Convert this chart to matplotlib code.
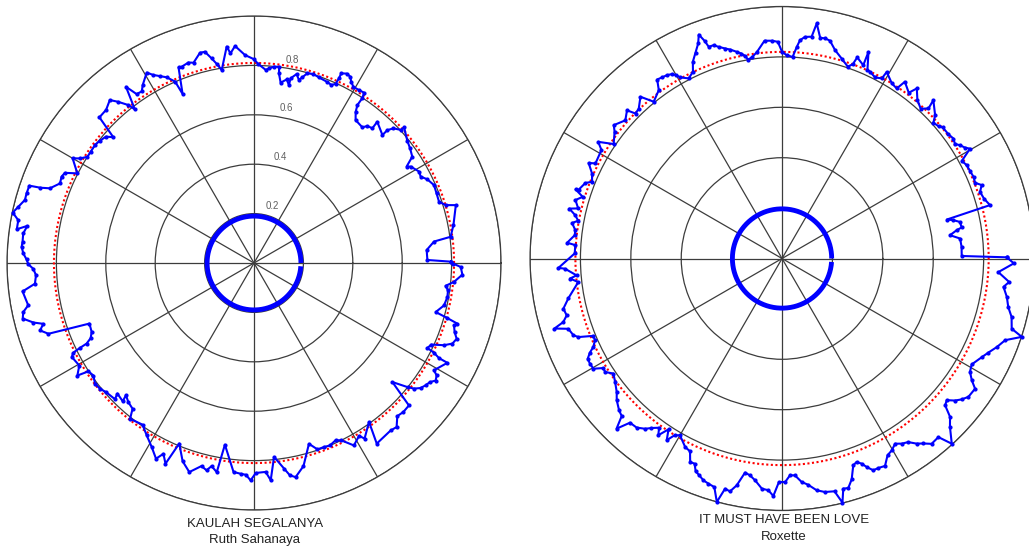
import numpy as np
import matplotlib
matplotlib.use("Agg")
import matplotlib.pyplot as plt

plt.rcParams['font.family'] = ['Liberation Sans', 'DejaVu Sans']

# KAULAH SEGALANYA - angle (deg) and level per sample
kaulah_deg = [
    0.4, 1.0, 4.3, 6.8, 7.6, 10.8, 16.0, 16.8, 18.3, 20.9, 23.4, 25.8, 27.4, 29.0, 31.6,
    32.3, 33.9, 36.3, 38.6, 42.1, 42.2, 44.0, 44.9, 44.9, 48.9, 48.7, 50.4, 51.4, 54.6, 56.1,
    56.8, 56.7, 57.1, 58.7, 60.6, 61.8, 62.7, 63.9, 65.3, 65.3, 65.5, 66.5, 68.2, 70.7, 72.6,
    74.3, 75.4, 76.2, 77.3, 78.8, 78.9, 79.9, 81.6, 82.5, 82.7, 84.2, 85.6, 86.5, 88.8, 90.0,
    92.5, 95.0, 96.4, 97.2, 99.5, 100.6, 101.7, 103.1, 104.4, 106.8, 108.1, 110.2, 111.1, 112.9, 113.5,
    115.2, 116.7, 118.2, 119.4, 122.0, 123.2, 124.8, 126.0, 127.8, 128.5, 130.1, 131.5, 134.0, 136.7, 138.2,
    139.5, 141.5, 143.4, 145.7, 147.5, 149.0, 150.0, 153.1, 154.5, 155.8, 157.7, 159.9, 160.6, 161.0, 163.0,
    164.6, 166.6, 168.2, 169.7, 171.9, 170.7, 172.7, 174.7, 176.0, 177.6, 179.1,
    180.3, 181.5, 183.2, 185.4, 187.0, 190.6, 192.0, 193.5, 195.1, 196.1, 197.5, 199.0, 200.2, 203.0, 204.7,
    205.7, 206.0, 206.4, 207.3, 210.4, 212.5, 213.2, 215.0, 217.2, 219.2, 221.1, 224.4, 223.7, 226.5, 225.9,
    227.9, 230.2, 231.5, 235.4, 238.1, 240.9, 243.4, 244.6, 246.2, 247.5, 250.2, 252.8, 255.5, 257.1, 258.2,
    259.9, 260.9, 264.4, 266.4, 267.8, 269.1, 270.5,
    273.2, 274.4, 275.9, 278.3, 279.6, 281.0, 283.7, 286.9, 288.8, 290.8, 292.6, 294.7, 296.2, 298.7, 301.3,
    302.2, 305.9, 304.2, 309.2, 311.0, 313.1, 315.1, 317.4, 319.3, 321.1, 321.9, 323.1, 324.5, 325.9, 327.1,
    328.4, 329.2, 332.7, 332.8, 333.5, 333.9, 335.3, 336.6, 337.9, 339.5, 341.0, 342.7, 343.4, 344.1, 344.9,
    347.4, 350.0, 352.0, 353.2, 354.6, 356.8, 358.9, 359.8,
]
kaulah_val = [
    0.796, 0.702, 0.701, 0.734, 0.803, 0.822, 0.850, 0.811, 0.789, 0.791, 0.794, 0.779, 0.760, 0.764, 0.745,
    0.731, 0.772, 0.784, 0.794, 0.819, 0.802, 0.785, 0.762, 0.734, 0.759, 0.726, 0.720, 0.703, 0.710, 0.738,
    0.765, 0.798, 0.821, 0.819, 0.819, 0.833, 0.849, 0.854, 0.845, 0.823, 0.797, 0.786, 0.791, 0.796, 0.802,
    0.798, 0.777, 0.763, 0.784, 0.762, 0.734, 0.755, 0.738, 0.774, 0.801, 0.799, 0.790, 0.783, 0.806, 0.825,
    0.843, 0.882, 0.854, 0.883, 0.792, 0.820, 0.846, 0.878, 0.879, 0.847, 0.854, 0.847, 0.849, 0.743, 0.801,
    0.831, 0.847, 0.864, 0.885, 0.850, 0.830, 0.833, 0.882, 0.787, 0.817, 0.853, 0.881, 0.862, 0.860, 0.764,
    0.788, 0.796, 0.802, 0.800, 0.800, 0.822, 0.848, 0.802, 0.848, 0.854, 0.849, 0.880, 0.918, 0.962, 0.963,
    0.962, 0.981, 0.998, 0.970, 0.970, 0.930, 0.942, 0.941, 0.943, 0.935, 0.921,
    0.914, 0.894, 0.884, 0.891, 0.944, 0.930, 0.955, 0.963, 0.925, 0.888, 0.908, 0.880, 0.710, 0.714, 0.728,
    0.752, 0.784, 0.817, 0.830, 0.820, 0.848, 0.801, 0.794, 0.808, 0.805, 0.795, 0.788, 0.765, 0.772, 0.745,
    0.759, 0.768, 0.806, 0.795, 0.822, 0.852, 0.886, 0.855, 0.888, 0.791, 0.853, 0.886, 0.849, 0.861, 0.840,
    0.860, 0.745, 0.850, 0.855, 0.858, 0.880, 0.850,
    0.847, 0.882, 0.789, 0.841, 0.872, 0.883, 0.846, 0.765, 0.797, 0.797, 0.800, 0.790, 0.800, 0.842, 0.819,
    0.840, 0.794, 0.884, 0.875, 0.880, 0.849, 0.854, 0.852, 0.739, 0.801, 0.824, 0.843, 0.853, 0.860, 0.876,
    0.868, 0.848, 0.881, 0.842, 0.814, 0.782, 0.790, 0.838, 0.867, 0.876, 0.859, 0.848, 0.859, 0.814, 0.762,
    0.788, 0.795, 0.793, 0.781, 0.813, 0.845, 0.837, 0.807,
]

# IT MUST HAVE BEEN LOVE
roxette_deg = [
    0.3, 0.8, 3.7, 6.4, 7.9, 9.2, 9.8, 11.6, 12.6, 13.3, 14.4, 16.5, 18.6, 20.2, 21.4,
    23.1, 25.0, 26.8, 28.5, 30.3, 31.2, 32.5, 33.5, 35.0, 36.8, 39.2, 40.2, 41.9, 43.1, 46.3,
    45.7, 47.2, 49.5, 51.6, 52.6, 55.2, 56.0, 57.9, 60.7, 61.0, 62.8, 64.8, 65.6, 67.3, 67.2,
    69.5, 70.0, 71.1, 73.4, 75.7, 77.6, 78.9, 80.2, 81.6, 82.4, 84.1, 85.3, 86.0, 87.0, 88.7, 90.0,
    91.1, 92.6, 94.6, 96.9, 98.5, 99.7, 100.3, 101.2, 102.3, 103.9, 105.1, 106.7, 107.8, 109.1, 109.6,
    110.4, 111.3, 112.8, 114.4, 115.5, 117.4, 119.3, 120.0, 120.8, 122.1, 123.5, 124.9, 126.2, 129.3, 131.2,
    133.7, 135.3, 136.3, 138.6, 141.6, 142.9, 145.8, 147.6, 149.0, 153.0, 153.7, 155.9, 158.0, 159.0, 161.3,
    161.5, 162.8, 164.2, 166.2, 166.8, 168.2, 169.5, 170.4, 172.2, 173.6, 175.8, 176.3, 178.6,
    182.4, 182.7, 184.7, 185.4, 186.6, 190.5, 192.9, 194.8, 196.2, 197.1, 198.2, 200.2, 201.1, 202.3, 203.6,
    205.1, 206.1, 207.3, 208.7, 210.3, 211.5, 212.7, 214.3, 216.5, 218.9, 220.6, 223.0, 224.5, 225.8, 227.2,
    229.3, 231.2, 232.4, 234.0, 235.0, 236.4, 237.6, 238.7, 240.0, 242.8, 244.5, 245.7, 246.9, 247.9, 249.1,
    250.5, 251.9, 253.5, 255.0, 256.1, 257.4, 258.7, 260.2, 261.6, 263.1, 265.0, 266.6, 267.9, 269.2,
    270.8, 272.1, 273.4, 275.0, 276.6, 278.5, 280.4, 282.7, 283.9, 284.9, 286.1, 287.5, 289.0, 290.1, 291.2,
    292.1, 293.3, 294.7, 296.4, 298.2, 299.8, 301.4, 302.9, 304.5, 306.0, 307.4, 308.9, 311.2, 312.5, 314.9,
    316.7, 318.0, 319.3, 320.6, 321.9, 323.4, 326.0, 327.3, 328.9, 330.8, 333.7, 335.5, 337.6, 339.9, 341.9,
    343.0, 345.7, 347.9, 350.3, 352.7, 354.1, 356.4, 358.8,
]
roxette_val = [
    0.892, 0.713, 0.714, 0.711, 0.673, 0.702, 0.723, 0.721, 0.697, 0.672, 0.852, 0.836, 0.829, 0.844, 0.823,
    0.826, 0.823, 0.821, 0.812, 0.864, 0.849, 0.837, 0.823, 0.830, 0.824, 0.823, 0.813, 0.807, 0.832, 0.869,
    0.832, 0.810, 0.827, 0.861, 0.828, 0.854, 0.814, 0.820, 0.849, 0.817, 0.808, 0.819, 0.820, 0.889, 0.832,
    0.852, 0.820, 0.805, 0.828, 0.853, 0.885, 0.890, 0.889, 0.943, 0.888, 0.884, 0.869, 0.842, 0.801, 0.807, 0.820,
    0.860, 0.865, 0.867, 0.826, 0.807, 0.801, 0.816, 0.829, 0.839, 0.854, 0.863, 0.877, 0.889, 0.889, 0.917,
    0.948, 0.916, 0.886, 0.857, 0.821, 0.805, 0.824, 0.840, 0.852, 0.859, 0.862, 0.866, 0.828, 0.804, 0.853,
    0.823, 0.818, 0.851, 0.829, 0.852, 0.833, 0.808, 0.864, 0.836, 0.831, 0.856, 0.826, 0.813, 0.836, 0.852,
    0.864, 0.828, 0.852, 0.833, 0.867, 0.838, 0.823, 0.845, 0.828, 0.828, 0.855, 0.822, 0.823,
    0.888, 0.862, 0.818, 0.845, 0.814, 0.862, 0.890, 0.884, 0.904, 0.945, 0.893, 0.882, 0.866, 0.809, 0.810,
    0.827, 0.849, 0.868, 0.869, 0.867, 0.832, 0.834, 0.810, 0.824, 0.843, 0.864, 0.884, 0.892, 0.942, 0.888,
    0.885, 0.867, 0.849, 0.830, 0.856, 0.814, 0.854, 0.821, 0.810, 0.841, 0.848, 0.886, 0.885, 0.911, 0.921,
    0.934, 0.940, 0.946, 1.000, 0.941, 0.947, 0.918, 0.862, 0.870, 0.887, 0.917, 0.921, 0.943, 0.887,
    0.887, 0.861, 0.862, 0.890, 0.904, 0.930, 0.942, 0.947, 0.998, 0.945, 0.948, 0.919, 0.868, 0.860, 0.873,
    0.893, 0.915, 0.915, 0.919, 0.886, 0.877, 0.861, 0.875, 0.884, 0.908, 0.924, 0.945, 0.942, 0.997, 0.944,
    0.916, 0.871, 0.862, 0.888, 0.906, 0.921, 0.924, 0.895, 0.871, 0.862, 0.884, 0.900, 0.922, 0.943, 1.001,
    0.953, 0.940, 0.918, 0.905, 0.886, 0.906, 0.860, 0.920,
]

# average level (red) and low level (inner blue) per song
kaulah_mean, kaulah_low = 0.81, 0.19
roxette_mean, roxette_low = 0.82, 0.197

rings = [0.2, 0.4, 0.6, 0.8, 1.0]
ring_text = ['0.2', '0.4', '0.6', '0.8']
ring_text_pos = [(0.538, 0.616), (0.553, 0.715), (0.566, 0.813), (0.578, 0.911)]

grid_col = '#3c3c3c'


def polar_panel(rect, deg, val, mean, low):
    ax = fig.add_axes(rect, projection='polar')
    ax.set_ylim(0, 1)
    ax.set_yticks(rings)
    ax.set_yticklabels([])
    ax.set_xticks(np.deg2rad(np.arange(0, 360, 30)))
    ax.set_xticklabels([])
    ax.grid(True, color=grid_col, lw=0.9)
    ax.spines['polar'].set_color(grid_col)
    ax.spines['polar'].set_linewidth(0.9)
    ax.set_facecolor('white')

    t = np.linspace(0, 2 * np.pi, 400)
    ax.plot(t, np.full_like(t, mean), color='red', lw=1.5, ls=(0, (1, 1.2)), zorder=3)

    arc = np.deg2rad(np.arange(0, 357))
    ax.plot(arc, np.full_like(arc, low), color='#0000ff', lw=3.5,
            solid_capstyle='butt', zorder=4)

    th = np.deg2rad(np.append(deg, deg[0] + 360))
    r = np.append(val, val[0])
    ax.plot(th, r, color='#0000ff', lw=1.5, marker='o', ms=2.0,
            clip_on=False, zorder=5)
    return ax


fig = plt.figure(figsize=(10.29, 5.5), dpi=100)

ax1 = polar_panel([0.0068, 0.0727, 0.4801, 0.8982], kaulah_deg, kaulah_val, kaulah_mean, kaulah_low)
for txt, (x, y) in zip(ring_text, ring_text_pos):
    ax1.text(x, y, txt, transform=ax1.transAxes, ha='center', va='center',
             fontsize=7, color='#606060')

ax2 = polar_panel([0.5151, 0.0718, 0.4898, 0.9164], roxette_deg, roxette_val, roxette_mean, roxette_low)

fig.text(0.2478, 0.0473, 'KAULAH SEGALANYA', ha='center', va='center', fontsize=9.5, color='#222222')
fig.text(0.2478, 0.0182, 'Ruth Sahanaya', ha='center', va='center', fontsize=9.5, color='#222222')
fig.text(0.7619, 0.0545, 'IT MUST HAVE BEEN LOVE', ha='center', va='center', fontsize=9.5, color='#222222')
fig.text(0.7619, 0.0236, 'Roxette', ha='center', va='center', fontsize=9.5, color='#222222')

fig.savefig('out.png', dpi=100)
